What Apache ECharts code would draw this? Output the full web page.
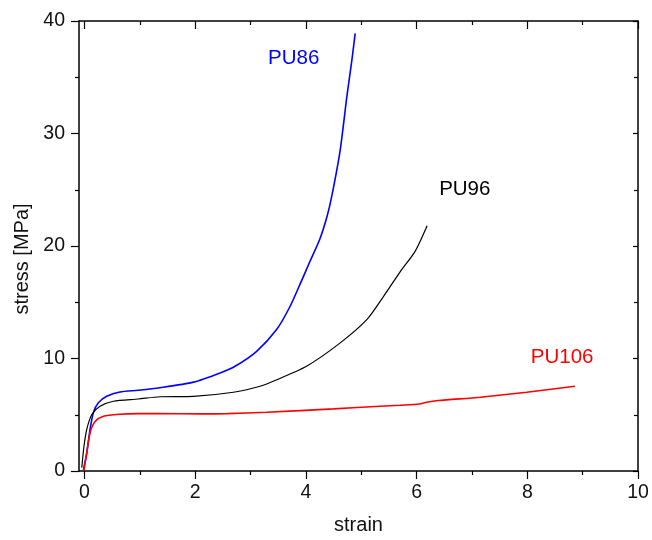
<!DOCTYPE html>
<html>
<head>
<meta charset="utf-8">
<script src="https://cdn.jsdelivr.net/npm/echarts@6/dist/echarts.min.js"></script>
<style>
  html, body { margin: 0; padding: 0; background: #fff; }
  #main { width: 652px; height: 540px; }
</style>
</head>
<body>
<div id="main"></div>
<script>
// 数据：应变 / 应力
var pu86Strain = [-0.02, 0.04, 0.1, 0.16, 0.25, 0.4, 0.64, 0.97, 1.36, 1.97, 2.45, 2.72, 3.11, 3.47, 3.71, 3.92, 4.07, 4.25, 4.38, 4.47, 4.62, 4.74, 4.83, 4.89];
var pu86Stress = [0.1, 1.6, 3.7, 5.2, 6.06, 6.64, 7.03, 7.18, 7.4, 7.9, 8.72, 9.31, 10.64, 12.57, 14.6, 16.9, 18.6, 20.6, 22.6, 24.5, 28.55, 33.3, 36.5, 38.9];

var pu96Strain = [-0.05, -0.01, 0.04, 0.13, 0.28, 0.52, 0.97, 1.36, 1.97, 2.69, 3.17, 3.41, 4.01, 4.62, 5.1, 5.4, 5.73, 5.97, 6.19];
var pu96Stress = [0.3, 2.2, 3.7, 5.0, 5.75, 6.2, 6.4, 6.6, 6.64, 7.0, 7.53, 7.98, 9.31, 11.39, 13.45, 15.5, 17.9, 19.5, 21.8];

var pu106Strain = [-0.01, 0.04, 0.1, 0.19, 0.34, 0.64, 0.97, 1.36, 2.09, 2.57, 3.29, 4.5, 5.34, 5.7, 6.05, 6.18, 6.39, 7.15, 7.99, 8.86];
var pu106Stress = [0.1, 1.6, 3.4, 4.4, 4.87, 5.05, 5.1, 5.1, 5.08, 5.1, 5.22, 5.52, 5.76, 5.85, 5.95, 6.11, 6.26, 6.56, 7.0, 7.53];

// 曲线标注（数据坐标）
var labelNames = ['PU86', 'PU96', 'PU106'];
var labelPos = [[3.78, 36.7], [6.87, 25.0], [8.63, 10.1]];

var xMajor = [0, 2, 4, 6, 8, 10];
var xMinor = [1, 3, 5, 7, 9];

var font = 'Liberation Sans, Arial, sans-serif';
var chart = echarts.init(document.getElementById('main'));

function zip(xs, ys) {
    var out = [];
    for (var i = 0; i < xs.length; i++) out.push([xs[i], ys[i]]);
    return out;
}

function xAx(pos, ticks, len, inside, showLabel, showLine) {
    return {
        type: 'value', position: pos, min: -0.1, max: 10,
        axisLine: { show: showLine, onZero: false, lineStyle: { color: '#000', width: 1.5 } },
        axisTick: { show: true, inside: inside, length: len, customValues: ticks, lineStyle: { color: '#000', width: 1.2 } },
        axisLabel: { show: showLabel, customValues: ticks, margin: 12, color: '#111', fontSize: 19.5, fontFamily: font },
        splitLine: { show: false }
    };
}

var bottom = xAx('bottom', xMajor, 8, false, true, true);
bottom.name = 'strain';
bottom.nameLocation = 'middle';
bottom.nameGap = 44;
bottom.nameTextStyle = { color: '#111', fontSize: 20, fontFamily: font };

var option = {
    animation: false,
    grid: { left: 79, right: 14, top: 21, bottom: 68 },
    xAxis: [
        bottom,
        xAx('bottom', xMinor, 4, false, false, false),
        xAx('top', xMajor, 8, true, false, true),
        xAx('top', xMinor, 4, true, false, false)
    ],
    yAxis: [
        {
            type: 'value', min: 0, max: 40, interval: 10, position: 'left',
            name: 'stress [MPa]', nameLocation: 'middle', nameGap: 46,
            nameTextStyle: { color: '#111', fontSize: 20, fontFamily: font, padding: [0, 26, 0, 0] },
            axisLine: { show: true, onZero: false, lineStyle: { color: '#000', width: 1.5 } },
            axisTick: { show: true, inside: false, length: 8, lineStyle: { color: '#000', width: 1.2 } },
            minorTick: { show: true, splitNumber: 2, length: 4, lineStyle: { color: '#000', width: 1.2 } },
            axisLabel: { margin: 14, color: '#111', fontSize: 19.5, fontFamily: font },
            splitLine: { show: false }
        },
        {
            type: 'value', min: 0, max: 40, interval: 10, position: 'right',
            axisLine: { show: true, onZero: false, lineStyle: { color: '#000', width: 1.5 } },
            axisTick: { show: true, inside: true, length: 5, lineStyle: { color: '#000', width: 1.2 } },
            minorTick: { show: true, splitNumber: 2, length: 4, lineStyle: { color: '#000', width: 1.2 } },
            axisLabel: { show: false },
            splitLine: { show: false }
        }
    ],
    series: [
        {
            name: 'PU86', type: 'line', showSymbol: false, smooth: 0.25,
            data: zip(pu86Strain, pu86Stress),
            lineStyle: { color: '#0000ff', width: 1.6 },
            markPoint: { symbol: 'circle', symbolSize: 0, silent: true,
                label: { show: true, formatter: labelNames[0], color: '#0000ff', fontSize: 20.5, fontFamily: font },
                data: [{ coord: labelPos[0] }] }
        },
        {
            name: 'PU96', type: 'line', showSymbol: false, smooth: 0.25,
            data: zip(pu96Strain, pu96Stress),
            lineStyle: { color: '#000', width: 1.2 },
            markPoint: { symbol: 'circle', symbolSize: 0, silent: true,
                label: { show: true, formatter: labelNames[1], color: '#000', fontSize: 20.5, fontFamily: font },
                data: [{ coord: labelPos[1] }] }
        },
        {
            name: 'PU106', type: 'line', showSymbol: false, smooth: 0.25,
            data: zip(pu106Strain, pu106Stress),
            lineStyle: { color: '#ff0000', width: 1.6 },
            markPoint: { symbol: 'circle', symbolSize: 0, silent: true,
                label: { show: true, formatter: labelNames[2], color: '#ff0000', fontSize: 20.5, fontFamily: font },
                data: [{ coord: labelPos[2] }] }
        }
    ]
};

chart.setOption(option);
</script>
</body>
</html>
